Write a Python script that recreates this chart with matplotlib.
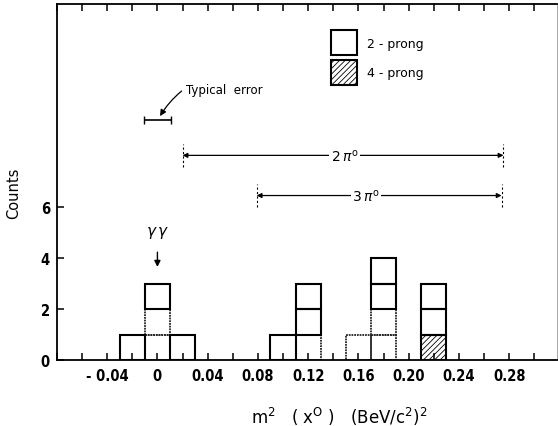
import matplotlib
matplotlib.use("Agg")
import matplotlib.pyplot as plt
from matplotlib.patches import Rectangle
import numpy as np

plt.rcParams["hatch.linewidth"] = 0.6

# histogram of m^2(x0), one box per event, bin width 0.02
bin_centers = [-0.02, 0.0, 0.02, 0.10, 0.12, 0.16, 0.18, 0.22]
n_faded = [0, 2, 0, 0, 1, 1, 2, 0]     # faint dotted boxes in the scan
n_4prong = [0, 0, 0, 0, 0, 0, 0, 1]    # hatched
n_2prong = [1, 1, 1, 1, 2, 0, 2, 2]    # open
bin_width = 0.02

xticks = [-0.04, 0, 0.04, 0.08, 0.12, 0.16, 0.20, 0.24, 0.28]
xticklabels = ["- 0.04", "0", "0.04", "0.08", "0.12", "0.16", "0.20", "0.24", "0.28"]
yticks = [0, 2, 4, 6]

# threshold ranges drawn as arrows
range_2pi = (0.020, 0.2755)
range_3pi = (0.079, 0.274)
err_lo, err_hi = -0.0104, 0.011

fig = plt.figure(figsize=(5.58, 4.27), dpi=100)
ax = fig.add_axes([0.102, 0.1546, 0.896, 0.8334])
ax.set_xlim(-0.08, 0.318)
ax.set_ylim(0, 14)

for ii in range(len(bin_centers)):
    level = 0
    for kk in range(n_faded[ii]):
        ax.bar(bin_centers[ii], 1, bottom=level, width=bin_width, fill=False,
               edgecolor="0.15", linewidth=1.3, linestyle=(0, (1.0, 0.5)),
               zorder=2)
        level += 1
    for kk in range(n_4prong[ii]):
        ax.bar(bin_centers[ii], 1, bottom=level, width=bin_width, fill=False,
               edgecolor="k", linewidth=1.5, hatch="//////", zorder=3)
        level += 1
    for kk in range(n_2prong[ii]):
        ax.bar(bin_centers[ii], 1, bottom=level, width=bin_width, fill=False,
               edgecolor="k", linewidth=1.5, zorder=3)
        level += 1

# ticks
ax.set_xticks(xticks)
ax.set_xticklabels(xticklabels)
ax.set_xticks(np.arange(-0.08, 0.32, 0.02), minor=True)
ax.set_yticks(yticks)
ax.set_yticks([2, 4, 6], minor=True)
ax.tick_params(axis="both", which="both", direction="in", length=5, width=1.1,
               labelsize=10.5)
ax.tick_params(axis="x", which="both", top=True)
ax.tick_params(axis="y", which="minor", left=False, right=True, length=5)
ax.tick_params(axis="x", pad=6)
ax.tick_params(axis="y", pad=5)
for lab in ax.get_xticklabels() + ax.get_yticklabels():
    lab.set_family("DejaVu Sans")
    lab.set_stretch("condensed")
    lab.set_weight("bold")
for s in ax.spines.values():
    s.set_linewidth(1.3)
ax.spines["right"].set_linewidth(0.6)
ax.spines["right"].set_color("0.6")

ax.set_xlabel(r"m$^2$   ( x$^\mathrm{O}$ )   (BeV/c$^2$)$^2$", fontsize=12)
ax.xaxis.set_label_coords(0.565, -0.125)
ax.set_ylabel("Counts", fontsize=10.5)
ax.yaxis.set_label_coords(-0.072, 0.47)

# legend boxes
ax.add_patch(Rectangle((0.1385, 12.0), 0.0205, 0.98, fill=False, edgecolor="k", linewidth=1.5))
ax.add_patch(Rectangle((0.1385, 10.82), 0.0205, 0.98, fill=False, edgecolor="k",
                       linewidth=1.5, hatch="//////"))
ax.text(0.167, 12.45, "2 - prong", fontsize=9, va="center")
ax.text(0.167, 11.3, "4 - prong", fontsize=9, va="center")

# typical error
ax.errorbar((err_lo + err_hi) / 2, 9.45, xerr=(err_hi - err_lo) / 2, fmt="none",
            ecolor="k", elinewidth=1.2, capsize=3, capthick=1)
ax.annotate("", xy=(0.001, 9.5), xytext=(0.021, 10.65),
            arrowprops=dict(arrowstyle="-|>", color="k", lw=0.9,
                            connectionstyle="arc3,rad=0.1", mutation_scale=9))
ax.text(0.023, 10.65, "Typical  error", fontsize=8.5, va="center")

# threshold arrows
for (lo, hi), yy, lab, xl in [(range_2pi, 8.05, r"$2\,\pi^{\mathrm{o}}$", 0.149),
                              (range_3pi, 6.47, r"$3\,\pi^{\mathrm{o}}$", 0.166)]:
    ax.annotate("", xy=(lo, yy), xytext=(hi, yy),
                arrowprops=dict(arrowstyle="<|-|>", color="k", lw=0.9,
                                mutation_scale=7, shrinkA=0, shrinkB=0))
    ax.plot([lo, lo], [yy - 0.45, yy + 0.45], color="k", lw=0.8, ls=(0, (2, 2)))
    ax.plot([hi, hi], [yy - 0.45, yy + 0.45], color="k", lw=0.8, ls=(0, (2, 2)))
    ax.text(xl, yy, lab, fontsize=10, ha="center", va="center",
            bbox=dict(facecolor="white", edgecolor="none", pad=1))

# gamma gamma marker
ax.text(0.0, 5.05, r"$\gamma\,\gamma$", fontsize=11, ha="center", va="center")
ax.annotate("", xy=(0.0, 3.55), xytext=(0.0, 4.35),
            arrowprops=dict(arrowstyle="-|>", color="k", lw=1.0, mutation_scale=9))

fig.savefig("out.png", dpi=100)
